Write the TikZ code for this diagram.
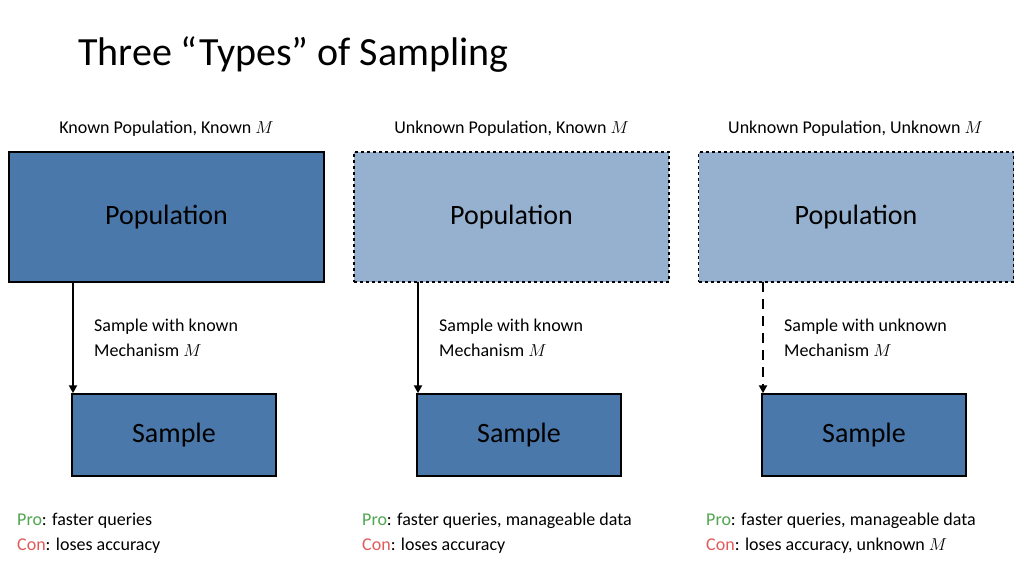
\documentclass[tikz,border=0pt]{standalone}
\usepackage{fontspec}
\setmainfont{Carlito}
\usetikzlibrary{arrows.meta}
\definecolor{dark}{HTML}{4A78AA}
\definecolor{light}{HTML}{95B1CF}
\definecolor{pro}{HTML}{4EA64E}
\definecolor{con}{HTML}{E05A5A}
\begin{document}
\begin{tikzpicture}[x=1pt,y=-1pt,
  pop/.style={draw=black,line width=1.5pt,minimum width=315pt,minimum height=130pt,font=\fontsize{28}{30}\selectfont,inner sep=0pt},
  smp/.style={draw=black,line width=1.5pt,fill=dark,minimum width=204pt,minimum height=82pt,font=\fontsize{28}{30}\selectfont,inner sep=0pt},
  hdr/.style={font=\fontsize{18}{20}\selectfont,inner sep=0pt},
  lbl/.style={font=\fontsize{18}{25}\selectfont,align=left,anchor=west,inner sep=0pt},
  arr/.style={line width=2.5pt,-{Triangle[length=8pt,width=8pt]}}]
\useasboundingbox (0,0) rectangle (1024,576);
\node[anchor=west,font=\fontsize{40}{44}\selectfont,inner sep=0pt] (title) at (78,55) {Three “Types” of Sampling};
\foreach \i/\x/\h in {1/9/{Known Population, Known $M$},2/354/{Unknown Population, Known $M$},3/698/{Unknown Population, Unknown $M$}}{
  \node[hdr] (h\i) at (\x+157.5,129) {\h};
}
\node[pop,fill=dark] (p1) at (166.5,217) {Population};
\node[pop,fill=light,dashed] (p2) at (511.5,217) {Population};
\node[pop,fill=light,dashed] (p3) at (856,217) {Population};
\node[smp] (s1) at (174,435) {Sample};
\node[smp] (s2) at (519,435) {Sample};
\node[smp] (s3) at (864,435) {Sample};
\coordinate (a1) at (73,282); \coordinate (a2) at (418,282); \coordinate (a3) at (763,282);
\draw[arr] (a1) -- (a1 |- s1.north);
\draw[arr] (a2) -- (a2 |- s2.north);
\draw[arr,dash pattern=on 10pt off 7pt] (a3) -- (a3 |- s3.north);
\node[lbl] (l1) at (94,338) {Sample with known\\Mechanism $M$};
\node[lbl] (l2) at (439,338) {Sample with known\\Mechanism $M$};
\node[lbl] (l3) at (784,338) {Sample with unknown\\Mechanism $M$};
\node[lbl] (c1) at (17,533) {\textcolor{pro}{Pro}: faster queries\\\textcolor{con}{Con}: loses accuracy};
\node[lbl] (c2) at (362,533) {\textcolor{pro}{Pro}: faster queries, manageable data\\\textcolor{con}{Con}: loses accuracy};
\node[lbl] (c3) at (706,533) {\textcolor{pro}{Pro}: faster queries, manageable data\\\textcolor{con}{Con}: loses accuracy, unknown $M$};
\end{tikzpicture}
\end{document}
